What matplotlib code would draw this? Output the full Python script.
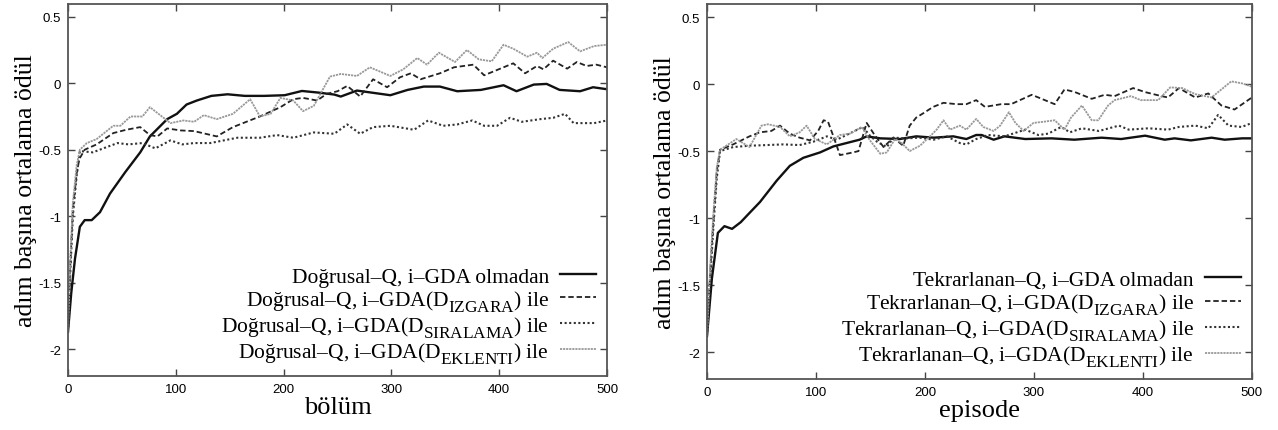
import matplotlib
matplotlib.use("Agg")
import matplotlib.pyplot as plt
import matplotlib._mathtext as mtext
from matplotlib.ticker import FormatStrFormatter

plt.rcParams['font.family'] = ['Liberation Serif', 'DejaVu Serif']
plt.rcParams['mathtext.fontset'] = 'custom'
plt.rcParams['mathtext.rm'] = 'Liberation Serif'
# subscripts in the original are a bit bigger and sit lower than mathtext's default
mtext.SHRINK_FACTOR = 0.8
mtext.FontConstantsBase.sub1 = 0.5
mtext.FontConstantsBase.sub2 = 0.6

# --- left panel: Dogrusal-Q ---
dq_yok_x = [0, 3, 6.5, 11, 15.5, 22, 29.7, 39, 53, 67, 76, 92, 101, 110, 119.5, 133, 148, 164, 182,
            201, 217, 232, 247, 253, 268, 299, 315, 330, 345, 361, 383, 404, 416, 432, 444, 456, 475, 487, 500]
dq_yok_y = [-1.87, -1.58, -1.32, -1.08, -1.03, -1.03, -0.97, -0.83, -0.67, -0.52, -0.40, -0.27, -0.23, -0.16,
            -0.13, -0.095, -0.083, -0.095, -0.095, -0.09, -0.058, -0.07, -0.085, -0.10, -0.055, -0.09, -0.05,
            -0.025, -0.025, -0.06, -0.05, -0.015, -0.06, -0.01, -0.005, -0.05, -0.06, -0.03, -0.045]

dq_izgara_x = [0, 2, 4.5, 8, 10.5, 15.5, 26.6, 42, 54, 67, 76, 83, 92, 104.5, 117, 138, 153, 178, 197, 209,
               218, 231, 240, 250, 259, 271, 283, 296, 308, 318, 327, 345, 358, 376, 386, 398, 413, 424, 435,
               441, 450, 463, 472, 481, 490, 500]
dq_izgara_y = [-1.87, -1.4, -0.95, -0.68, -0.57, -0.50, -0.46, -0.375, -0.35, -0.33, -0.39, -0.40, -0.34,
               -0.355, -0.36, -0.40, -0.33, -0.25, -0.18, -0.12, -0.11, -0.13, -0.08, -0.06, -0.02, -0.10,
               0.03, -0.03, 0.045, 0.075, 0.03, 0.075, 0.12, 0.14, 0.06, 0.10, 0.15, 0.075, 0.13, 0.105, 0.17,
               0.11, 0.16, 0.13, 0.14, 0.12]

dq_siralama_x = [0, 2, 4.5, 8, 11, 23, 36, 46, 56, 69, 81, 95, 106, 117, 132, 157, 178, 194, 209, 228, 247,
                 259, 271, 283, 299, 321, 334, 348, 361, 375, 386, 398, 410, 421, 438, 450, 461, 469, 488, 500]
dq_siralama_y = [-1.87, -1.45, -1.0, -0.7, -0.51, -0.52, -0.48, -0.45, -0.46, -0.45, -0.49, -0.43, -0.46,
                 -0.45, -0.45, -0.41, -0.41, -0.39, -0.41, -0.37, -0.38, -0.31, -0.38, -0.33, -0.32, -0.35,
                 -0.28, -0.32, -0.31, -0.28, -0.32, -0.32, -0.26, -0.29, -0.27, -0.26, -0.23, -0.30, -0.30, -0.28]

dq_eklenti_x = [0, 2, 4.5, 8, 11, 17.5, 26.6, 42, 48.6, 58, 69, 76, 95, 107, 117, 126, 138, 153, 169, 178,
                188, 197, 209, 218, 228, 243, 253, 268, 280, 299, 311, 324, 333, 344, 359, 370, 381, 393, 404,
                413, 426, 435, 440, 450, 464, 475, 488, 500]
dq_eklenti_y = [-1.87, -1.35, -0.9, -0.62, -0.50, -0.45, -0.42, -0.32, -0.32, -0.25, -0.25, -0.18, -0.30,
                -0.28, -0.29, -0.24, -0.27, -0.23, -0.12, -0.25, -0.23, -0.11, -0.13, -0.21, -0.17, 0.05, 0.07,
                0.055, 0.12, 0.055, 0.105, 0.19, 0.14, 0.23, 0.16, 0.25, 0.18, 0.165, 0.29, 0.26, 0.20, 0.23,
                0.19, 0.26, 0.31, 0.24, 0.28, 0.29]

# --- right panel: Tekrarlanan-Q ---
tq_yok_x = [0, 4.5, 10, 16, 23, 31, 38, 48.6, 64, 76, 88.4, 103.7, 116, 128, 140, 146.5, 159, 177, 192, 208,
            226, 238, 247, 252, 263, 273, 292, 316, 337, 362, 380, 402, 420, 429, 444, 463, 475, 491, 500]
tq_yok_y = [-1.88, -1.45, -1.11, -1.06, -1.08, -1.03, -0.97, -0.88, -0.72, -0.61, -0.55, -0.51, -0.465,
            -0.44, -0.415, -0.39, -0.405, -0.41, -0.39, -0.40, -0.39, -0.41, -0.38, -0.38, -0.415, -0.39,
            -0.41, -0.405, -0.415, -0.40, -0.41, -0.385, -0.415, -0.405, -0.42, -0.40, -0.415, -0.405, -0.405]

tq_izgara_x = [0, 3, 6, 9, 12, 24, 39, 48.6, 59, 67, 76, 85, 94.5, 102, 107, 111, 116, 122, 134, 139, 146.5,
               153, 162, 171, 180, 186, 192, 198, 207.6, 217, 229, 238, 247, 255, 270, 279, 298, 319, 328,
               337.6, 353, 365, 374, 391, 402, 417, 423, 433, 448, 460, 472, 484, 500]
tq_izgara_y = [-1.88, -1.4, -1.0, -0.65, -0.49, -0.45, -0.39, -0.36, -0.35, -0.31, -0.37, -0.40, -0.42,
               -0.35, -0.27, -0.28, -0.39, -0.53, -0.51, -0.50, -0.29, -0.37, -0.47, -0.40, -0.46, -0.31,
               -0.25, -0.22, -0.17, -0.14, -0.15, -0.15, -0.12, -0.17, -0.15, -0.15, -0.08, -0.15, -0.04,
               -0.06, -0.11, -0.08, -0.09, -0.03, -0.06, -0.09, -0.10, -0.03, -0.10, -0.07, -0.16, -0.19, -0.10]

tq_siralama_x = [0, 3, 6, 9, 12, 24, 39, 55, 70, 85, 97.6, 110, 119, 128, 143, 149.5, 156, 165, 171, 183,
                 195, 208, 220, 232, 238, 247, 258, 273, 292, 304, 313, 325, 333, 344, 359.6, 378, 387, 405,
                 423, 433, 448, 460, 469, 478.5, 490.6, 500]
tq_siralama_y = [-1.88, -1.45, -1.05, -0.7, -0.5, -0.47, -0.46, -0.455, -0.45, -0.455, -0.43, -0.39, -0.415,
                 -0.38, -0.32, -0.385, -0.43, -0.47, -0.40, -0.405, -0.40, -0.415, -0.39, -0.44, -0.45, -0.41,
                 -0.38, -0.39, -0.34, -0.38, -0.37, -0.32, -0.36, -0.33, -0.35, -0.31, -0.34, -0.33, -0.34,
                 -0.32, -0.31, -0.33, -0.23, -0.31, -0.32, -0.29]

tq_eklenti_x = [0, 3, 6, 9, 12, 27, 39, 50, 56, 67, 76, 85, 91.4, 99, 110, 122, 131, 142, 149.5, 159, 165,
                172.5, 178.6, 186, 195.4, 204.6, 210.7, 217, 223, 232, 238, 247, 253.5, 263, 269, 277, 283,
                290.6, 299.5, 310, 319, 328, 334, 344, 353, 359, 368, 374, 389, 398, 414, 425, 436, 448, 463,
                472, 481, 491, 500]
tq_eklenti_y = [-1.88, -1.35, -0.95, -0.62, -0.49, -0.41, -0.47, -0.31, -0.30, -0.32, -0.39, -0.36, -0.31,
                -0.41, -0.45, -0.38, -0.37, -0.32, -0.42, -0.52, -0.51, -0.41, -0.44, -0.50, -0.46, -0.39,
                -0.34, -0.27, -0.34, -0.31, -0.34, -0.26, -0.32, -0.35, -0.31, -0.21, -0.29, -0.35, -0.29,
                -0.28, -0.27, -0.34, -0.25, -0.16, -0.27, -0.27, -0.16, -0.12, -0.09, -0.12, -0.12, -0.025,
                -0.03, -0.075, -0.10, -0.04, 0.02, 0.005, -0.02]

x_ticks = [0, 100, 200, 300, 400, 500]
y_ticks = [-2, -1.5, -1, -0.5, 0, 0.5]
y_label = 'adım başına ortalama ödül'

styles = [
    dict(color='#111111', lw=1.7, linestyle='-'),
    dict(color='#222222', lw=1.3, linestyle=(0, (3, 1.6))),
    dict(color='#333333', lw=1.5, linestyle=(0, (1, 1.2))),
    dict(color='#999999', lw=1.3, linestyle=(0, (1.2, 0.5))),
]


def draw_panel(ax, series, prefix, xlabel):
    suffixes = [' olmadan', r'(D$_{\mathrm{IZGARA}}$) ile',
                r'(D$_{\mathrm{SIRALAMA}}$) ile', r'(D$_{\mathrm{EKLENTI}}$) ile']
    for (xs, ys), st, suf in zip(series, styles, suffixes):
        label = prefix + ', i–GDA' + suf
        ax.plot(xs, ys, label=label, **st)
    ax.set_xlim(0, 500)
    ax.set_ylim(-2.2, 0.6)
    ax.set_xticks(x_ticks)
    ax.set_yticks(y_ticks)
    ax.yaxis.set_major_formatter(FormatStrFormatter('%g'))
    ax.tick_params(direction='in', top=True, right=True, length=5, width=1,
                   color='#444444', labelsize=9.5, pad=5)
    for lab in ax.get_xticklabels() + ax.get_yticklabels():
        lab.set_family('Liberation Sans')
    for sp in ax.spines.values():
        sp.set_color('#555555')
        sp.set_linewidth(1.3)
    ax.set_xlabel(xlabel, fontsize=19, labelpad=1)
    ax.set_ylabel(y_label, fontsize=18.5, labelpad=1)
    ax.legend(loc='lower right', frameon=False, markerfirst=False, fontsize=15.5,
              handlelength=1.7, handletextpad=0.5, labelspacing=0.05,
              borderaxespad=0.2, borderpad=0.3)


fig = plt.figure(figsize=(12.78, 4.31), dpi=100)
ax1 = fig.add_axes([0.0532, 0.1262, 0.4218, 0.8633])
ax2 = fig.add_axes([0.5532, 0.1183, 0.4264, 0.8710])

draw_panel(ax1, [(dq_yok_x, dq_yok_y), (dq_izgara_x, dq_izgara_y),
                 (dq_siralama_x, dq_siralama_y), (dq_eklenti_x, dq_eklenti_y)],
           'Doğrusal–Q', 'bölüm')
draw_panel(ax2, [(tq_yok_x, tq_yok_y), (tq_izgara_x, tq_izgara_y),
                 (tq_siralama_x, tq_siralama_y), (tq_eklenti_x, tq_eklenti_y)],
           'Tekrarlanan–Q', 'episode')

fig.savefig('out.png', dpi=100)
